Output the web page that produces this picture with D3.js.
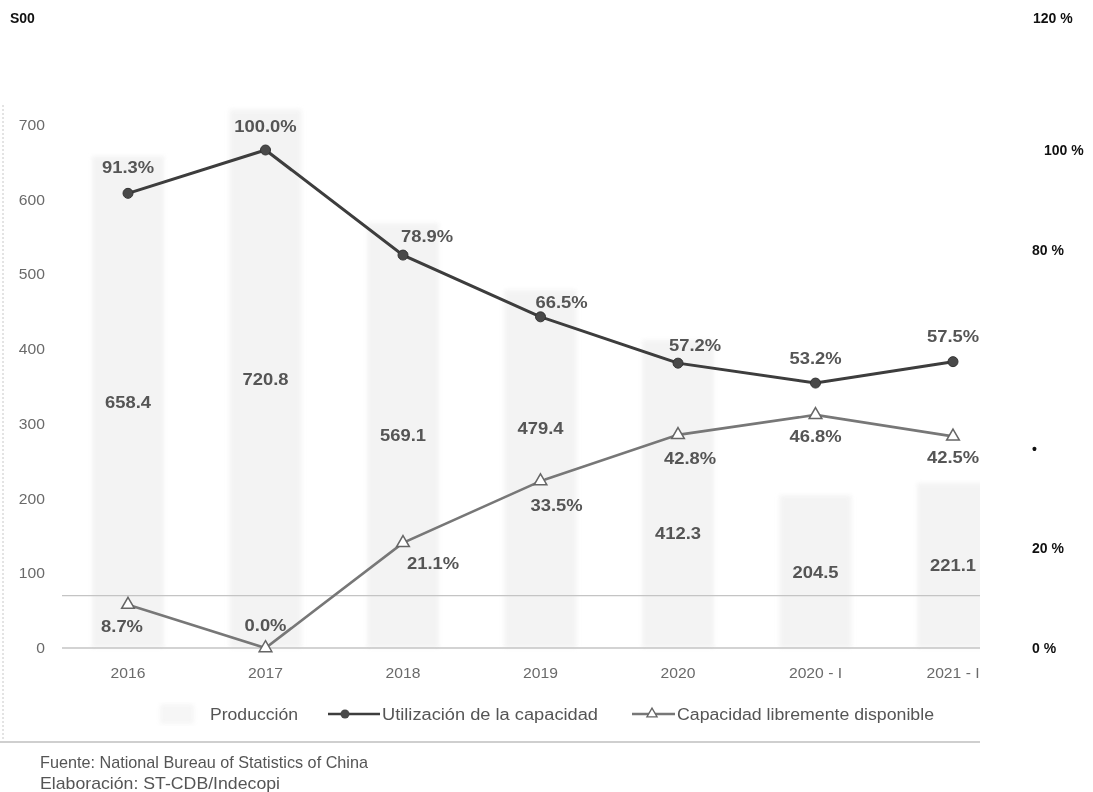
<!DOCTYPE html>
<html>
<head>
<meta charset="utf-8">
<script src="https://cdn.jsdelivr.net/npm/d3@7"></script>
<style>
  html, body { margin: 0; padding: 0; background: #fff; }
  svg { display: block; }
</style>
</head>
<body>
<svg id="chart" width="1093" height="792"></svg>
<script>
// Production (thousand t) and capacity indicators (%) by period
const categories = ["2016", "2017", "2018", "2019", "2020", "2020 - I", "2021 - I"];
const production = [658.4, 720.8, 569.1, 479.4, 412.3, 204.5, 221.1];
const utilization = [91.3, 100.0, 78.9, 66.5, 57.2, 53.2, 57.5];
const available = [8.7, 0.0, 21.1, 33.5, 42.8, 46.8, 42.5];
const leftTicks = [0, 100, 200, 300, 400, 500, 600, 700];
const refLines = [0, 70];
const rightTicks = [100, 80, 40, 20, 0];
const rightTickLabels = ["100 %", "80 %", "•", "20 %", "0 %"];
const headerLeft = "S00";
const headerRight = "120 %";
const legendLabels = ["Producción", "Utilización de la capacidad", "Capacidad libremente disponible"];
const sourceLines = ["Fuente: National Bureau of Statistics of China", "Elaboración: ST-CDB/Indecopi"];

// Label nudges (px) so the value labels avoid the lines
const utilNudge = [[0, -26], [0, -24], [24, -19], [21, -15], [17, -18], [0, -25], [0, -26]];
const availNudge = [[-6, 21], [0, -23], [30, 20], [16, 24], [12, 23], [0, 21], [0, 21]];
const prodNudge = [0, 0, 0, -41, 39, 0, 0];

const svg = d3.select("#chart");
const FONT = "'Liberation Sans', Arial, sans-serif";

const x = d3.scalePoint().domain(categories).range([128, 953]);
const y = d3.scaleLinear().domain([0, 700]).range([648, 125]);
const yPct = d3.scaleLinear().domain([0, 100]).range([648, 150]);
const barW = 72;

const defs = svg.append("defs");
const pat = defs.append("pattern")
  .attr("id", "hatch").attr("patternUnits", "userSpaceOnUse")
  .attr("width", 4).attr("height", 4);
pat.append("rect").attr("width", 4).attr("height", 4).attr("fill", "#f8f8f8");
pat.append("path").attr("d", "M-1,1 l2,-2 M0,4 l4,-4 M3,5 l2,-2")
  .attr("stroke", "#dedede").attr("stroke-width", 0.9);
defs.append("filter").attr("id", "soft").attr("x", "-10%").attr("y", "-10%")
  .attr("width", "120%").attr("height", "120%")
  .append("feGaussianBlur").attr("stdDeviation", 2.2);
defs.append("filter").attr("id", "scan")
  .append("feGaussianBlur").attr("stdDeviation", 0.55);
defs.append("clipPath").attr("id", "crop")
  .append("rect").attr("x", 0).attr("y", 95).attr("width", 980).attr("height", 697);

// stretched text helper (the chart text is set wide)
function wideText(g, tx, ty, str, opts) {
  return g.append("text")
    .attr("transform", `translate(${tx},${ty}) scale(${opts.sx || 1.15},1)`)
    .attr("text-anchor", opts.anchor || "middle")
    .attr("font-family", FONT)
    .attr("font-size", opts.size || 16)
    .attr("font-weight", opts.weight || "normal")
    .attr("fill", opts.fill || "#555")
    .text(str);
}

const g = svg.append("g").attr("clip-path", "url(#crop)").attr("filter", "url(#scan)");

// left dotted border
g.append("line").attr("x1", 3).attr("x2", 3).attr("y1", 105).attr("y2", 740)
  .attr("stroke", "#c8c8c8").attr("stroke-dasharray", "2,2");

// bars
g.append("g").attr("filter", "url(#soft)").attr("opacity", 0.9)
  .selectAll("rect").data(production).join("rect")
  .attr("x", (d, i) => x(categories[i]) - barW / 2)
  .attr("y", d => y(d))
  .attr("width", barW)
  .attr("height", d => y(0) - y(d))
  .attr("fill", "url(#hatch)");

// reference lines
g.selectAll("line.ref").data(refLines).join("line").attr("class", "ref")
  .attr("x1", 62).attr("x2", 980)
  .attr("y1", d => y(d)).attr("y2", d => y(d))
  .attr("stroke", "#c4c4c4").attr("stroke-width", 1.3);

// left axis
const yAxis = d3.axisLeft(y).tickValues(leftTicks).tickSize(0).tickPadding(0);
const ax = g.append("g").attr("transform", "translate(45,0)").call(yAxis);
ax.select(".domain").remove();
ax.selectAll("text").remove();
leftTicks.forEach(t => wideText(ax, 0, y(t) + 5, String(t), { anchor: "end", size: 14, fill: "#6a6a6a", sx: 1.12 }));

// category labels
categories.forEach(c => wideText(g, x(c), 678, c, { size: 14, fill: "#6a6a6a", sx: 1.12 }));

// lines
const lineU = d3.line().x((d, i) => x(categories[i])).y(d => yPct(d));
g.append("path").datum(utilization).attr("d", lineU)
  .attr("fill", "none").attr("stroke", "#3c3c3c").attr("stroke-width", 3);
g.append("path").datum(available).attr("d", lineU)
  .attr("fill", "none").attr("stroke", "#777").attr("stroke-width", 2.6);

g.selectAll("circle.u").data(utilization).join("circle").attr("class", "u")
  .attr("cx", (d, i) => x(categories[i])).attr("cy", d => yPct(d)).attr("r", 5)
  .attr("fill", "#4a4a4a").attr("stroke", "#333").attr("stroke-width", 1);

const tri = d3.symbol().type(d3.symbolTriangle).size(70);
g.selectAll("path.a").data(available).join("path").attr("class", "a")
  .attr("transform", (d, i) => `translate(${x(categories[i])},${yPct(d)})`)
  .attr("d", tri).attr("fill", "#fff").attr("stroke", "#666").attr("stroke-width", 1.5);

// value labels
production.forEach((v, i) => {
  const cy = (y(v) + y(0)) / 2 + prodNudge[i];
  wideText(g, x(categories[i]), cy + 6, d3.format(".1f")(v), { weight: "bold", fill: "#555" });
});
utilization.forEach((v, i) => {
  const [dx, dy] = utilNudge[i];
  wideText(g, x(categories[i]) + dx, yPct(v) + dy + 6, d3.format(".1f")(v) + "%", { weight: "bold", fill: "#555" });
});
available.forEach((v, i) => {
  const [dx, dy] = availNudge[i];
  wideText(g, x(categories[i]) + dx, yPct(v) + dy + 6, d3.format(".1f")(v) + "%", { weight: "bold", fill: "#555" });
});

// legend
const lg = g.append("g");
lg.append("rect").attr("x", 160).attr("y", 704).attr("width", 34).attr("height", 20)
  .attr("fill", "url(#hatch)").attr("filter", "url(#soft)").attr("opacity", 0.7);
lg.append("text").attr("x", 210).attr("y", 720).attr("font-family", FONT).attr("font-size", 16)
  .attr("fill", "#555").attr("textLength", 88).attr("lengthAdjust", "spacingAndGlyphs").text(legendLabels[0]);
lg.append("line").attr("x1", 328).attr("x2", 380).attr("y1", 714).attr("y2", 714)
  .attr("stroke", "#3c3c3c").attr("stroke-width", 2.5);
lg.append("circle").attr("cx", 345).attr("cy", 714).attr("r", 4.5).attr("fill", "#4a4a4a");
lg.append("text").attr("x", 382).attr("y", 720).attr("font-family", FONT).attr("font-size", 16)
  .attr("fill", "#555").attr("textLength", 216).attr("lengthAdjust", "spacingAndGlyphs").text(legendLabels[1]);
lg.append("line").attr("x1", 632).attr("x2", 675).attr("y1", 714).attr("y2", 714)
  .attr("stroke", "#777").attr("stroke-width", 2.3);
lg.append("path").attr("transform", "translate(652,714)").attr("d", d3.symbol().type(d3.symbolTriangle).size(45))
  .attr("fill", "#fff").attr("stroke", "#666").attr("stroke-width", 1.3);
lg.append("text").attr("x", 677).attr("y", 720).attr("font-family", FONT).attr("font-size", 16)
  .attr("fill", "#555").attr("textLength", 257).attr("lengthAdjust", "spacingAndGlyphs").text(legendLabels[2]);

// frame line under legend
g.append("line").attr("x1", 0).attr("x2", 980).attr("y1", 742).attr("y2", 742)
  .attr("stroke", "#cfcfcf").attr("stroke-width", 2);

// source notes
g.append("text").attr("x", 40).attr("y", 768).attr("font-family", FONT).attr("font-size", 17)
  .attr("fill", "#555").attr("textLength", 328).attr("lengthAdjust", "spacingAndGlyphs").text(sourceLines[0]);
g.append("text").attr("x", 40).attr("y", 789).attr("font-family", FONT).attr("font-size", 17)
  .attr("fill", "#555").attr("textLength", 240).attr("lengthAdjust", "spacingAndGlyphs").text(sourceLines[1]);

// crisp header and right-hand percentage labels
const ov = svg.append("g").attr("font-family", "'Liberation Sans', Arial, sans-serif")
  .attr("font-weight", "bold").attr("font-size", 14).attr("fill", "#111");
ov.append("text").attr("x", 10).attr("y", 23).text(headerLeft);
ov.append("text").attr("x", 1033).attr("y", 23).text(headerRight);
ov.selectAll("text.r").data(rightTicks).join("text").attr("class", "r")
  .attr("x", (d, i) => rightTickLabels[i] === "100 %" ? 1044 : 1032)
  .attr("y", d => yPct(d) + 5)
  .text((d, i) => rightTickLabels[i]);
</script>
</body>
</html>
